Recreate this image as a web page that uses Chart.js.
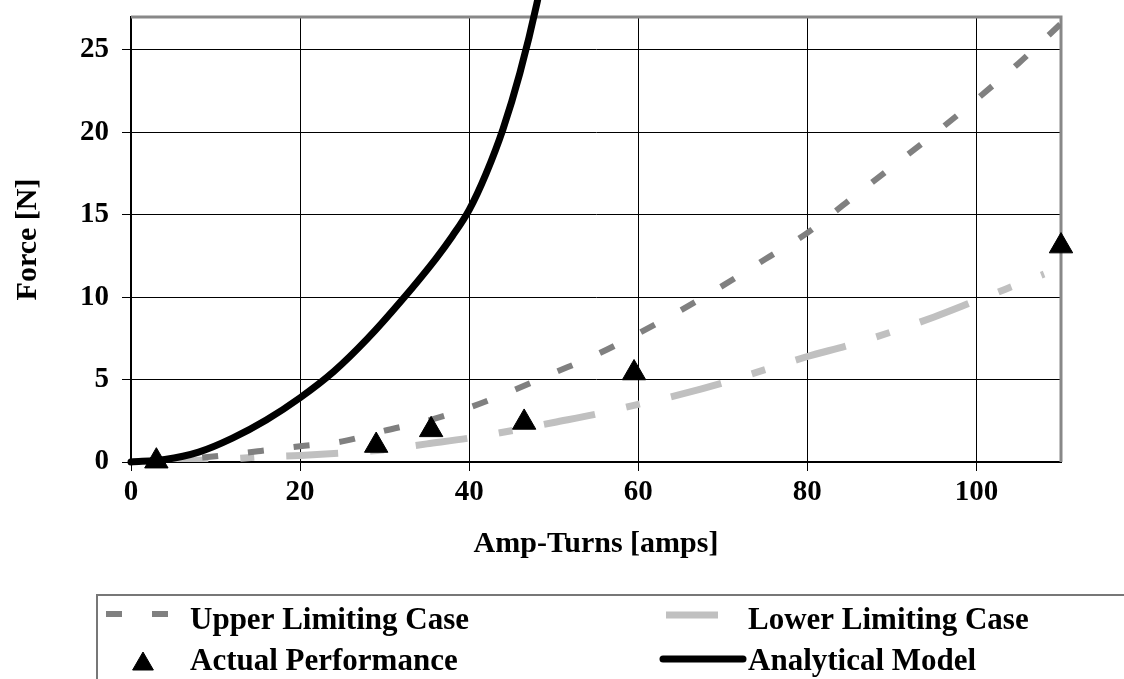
<!DOCTYPE html>
<html lang="en">
<head>
<meta charset="UTF-8">
<title>Force vs Amp-Turns</title>
<script src="https://cdn.jsdelivr.net/npm/chart.js"></script>
<style>
    body { margin: 0; background: #fff; }
    #wrap { width: 1124px; height: 679px; }
</style>
</head>
<body>
<div id="wrap"><canvas id="forceChart" width="1124" height="679"></canvas></div>
<script>
// Analytical Model (solid black line)
const analyticalX = [0, 4, 8, 12, 16, 20, 24, 28, 32, 36, 38, 40, 42, 44, 46, 48, 50];
const analyticalY = [0, 0.15, 0.6, 1.45, 2.55, 3.9, 5.5, 7.5, 9.8, 12.3, 13.7, 15.3, 17.5, 20.2, 23.6, 27.8, 33];

// Upper Limiting Case (dark grey dashes)
const upperX = [3, 8, 10, 15, 20, 25, 30, 35, 40, 45, 50, 55, 60, 65, 70, 75, 80, 85, 90, 95, 100, 105, 110];
const upperY = [0.05, 0.25, 0.35, 0.65, 0.95, 1.25, 1.9, 2.5, 3.3, 4.3, 5.4, 6.5, 7.8, 9.2, 10.7, 12.3, 13.9, 15.9, 17.9, 19.9, 22.0, 24.2, 26.6];

// Lower Limiting Case (light grey long dash / short dash)
const lowerX = [3, 8, 12, 15, 20, 25, 30, 35, 40, 45, 50, 55, 60, 65, 70, 75, 80, 85, 90, 95, 100, 105, 108];
const lowerY = [0, 0.1, 0.2, 0.3, 0.4, 0.55, 0.75, 1.1, 1.45, 1.9, 2.4, 2.9, 3.5, 4.1, 4.8, 5.6, 6.4, 7.1, 7.9, 8.8, 9.8, 10.8, 11.4];

// Actual Performance (triangles)
const actualX = [3, 29, 35.5, 46.5, 59.5, 110];
const actualY = [0.05, 1.0, 1.95, 2.4, 5.4, 13.1];

const xTicksMax = 110;
const yTicksMax = 27;

function pts(xs, ys) {
    return xs.map(function (x, i) { return { x: x, y: ys[i] }; });
}

const serif = "'Liberation Serif', 'Times New Roman', serif";

// top + right edge of the plot area
const framePlugin = {
    id: 'frame',
    beforeDatasetsDraw(chart) {
        const a = chart.chartArea;
        const ctx = chart.ctx;
        ctx.save();
        ctx.strokeStyle = '#888';
        ctx.lineWidth = 3;
        ctx.beginPath();
        ctx.moveTo(a.left, a.top);
        ctx.lineTo(a.right, a.top);
        ctx.lineTo(a.right, a.bottom);
        ctx.stroke();
        ctx.restore();
    }
};

// legend drawn in the open box below the axis title
const legendSlots = [
    { x0: 106, x1: 168, y: 614, tx: 190, ty: 629 },
    { x0: 666, x1: 719, y: 615, tx: 748, ty: 629 },
    { x0: 143, x1: 143, y: 664, tx: 190, ty: 670 },
    { x0: 663, x1: 743, y: 659, tx: 748, ty: 670 }
];

const boxLegendPlugin = {
    id: 'boxLegend',
    afterDraw(chart) {
        const ctx = chart.ctx;
        ctx.save();
        ctx.strokeStyle = '#777';
        ctx.lineWidth = 2;
        ctx.beginPath();
        ctx.moveTo(97, 679);
        ctx.lineTo(97, 595);
        ctx.lineTo(1124, 595);
        ctx.stroke();

        chart.data.datasets.forEach(function (ds, i) {
            const s = legendSlots[i];
            if (ds.showLine === false) {
                ctx.fillStyle = ds.backgroundColor;
                ctx.strokeStyle = ds.borderColor;
                ctx.lineWidth = 1;
                Chart.helpers.drawPoint(ctx, {
                    pointStyle: ds.pointStyle,
                    radius: 12,
                    borderWidth: 1
                }, s.x0, s.y);
            } else {
                ctx.strokeStyle = ds.borderColor;
                ctx.lineWidth = ds.borderWidth;
                ctx.lineCap = ds.borderCapStyle || 'butt';
                ctx.setLineDash(ds.borderDash || []);
                ctx.beginPath();
                ctx.moveTo(s.x0, s.y);
                ctx.lineTo(s.x1, s.y);
                ctx.stroke();
                ctx.setLineDash([]);
            }
            ctx.fillStyle = '#000';
            ctx.font = 'bold 31px ' + serif;
            ctx.textBaseline = 'alphabetic';
            ctx.textAlign = 'left';
            ctx.fillText(ds.label, s.tx, s.ty);
        });
        ctx.restore();
    }
};

const ctx = document.getElementById('forceChart').getContext('2d');
const forceChart = new Chart(ctx, {
    type: 'line',
    data: {
        datasets: [
            {
                label: 'Upper Limiting Case',
                data: pts(upperX, upperY),
                borderColor: '#808080',
                borderWidth: 6,
                borderDash: [16, 30],
                borderCapStyle: 'butt',
                pointRadius: 0,
                tension: 0.4,
                cubicInterpolationMode: 'monotone',
                fill: false,
                order: 2
            },
            {
                label: 'Lower Limiting Case',
                data: pts(lowerX, lowerY),
                borderColor: '#c0c0c0',
                borderWidth: 7,
                borderDash: [52, 32, 14, 32],
                borderCapStyle: 'butt',
                pointRadius: 0,
                tension: 0.4,
                cubicInterpolationMode: 'monotone',
                fill: false,
                order: 3
            },
            {
                label: 'Actual Performance',
                data: pts(actualX, actualY),
                showLine: false,
                pointStyle: 'triangle',
                pointRadius: 13.5,
                backgroundColor: '#000',
                borderColor: '#000',
                borderWidth: 1,
                clip: false,
                order: 0
            },
            {
                label: 'Analytical Model',
                data: pts(analyticalX, analyticalY),
                borderColor: '#000',
                borderWidth: 7,
                borderCapStyle: 'round',
                borderJoinStyle: 'round',
                pointRadius: 0,
                tension: 0.4,
                cubicInterpolationMode: 'monotone',
                fill: false,
                clip: { left: 10, top: 17, right: 0, bottom: 10 },
                order: 1
            }
        ]
    },
    options: {
        responsive: false,
        animation: false,
        devicePixelRatio: 1,
        layout: { padding: { left: 0, top: 17, right: 63, bottom: 117 } },
        plugins: {
            legend: { display: false },
            tooltip: { enabled: false }
        },
        scales: {
            x: {
                type: 'linear',
                min: 0,
                max: xTicksMax,
                ticks: {
                    stepSize: 20,
                    includeBounds: false,
                    color: '#000',
                    padding: 4,
                    font: { family: serif, size: 29, weight: 'bold' }
                },
                grid: { color: '#000', lineWidth: 1, tickLength: 9 },
                border: { color: '#000', width: 2 },
                title: {
                    display: true,
                    text: 'Amp-Turns [amps]',
                    color: '#000',
                    font: { family: serif, size: 30, weight: 'bold' },
                    padding: { top: 10, bottom: 0 }
                },
                afterFit: function (scale) { scale.height = 100; }
            },
            y: {
                type: 'linear',
                min: 0,
                max: yTicksMax,
                ticks: {
                    stepSize: 5,
                    includeBounds: false,
                    color: '#000',
                    padding: 13,
                    font: { family: serif, size: 29, weight: 'bold' }
                },
                grid: { color: '#000', lineWidth: 1, tickLength: 9 },
                border: { color: '#000', width: 2 },
                title: {
                    display: true,
                    text: 'Force [N]',
                    color: '#000',
                    font: { family: serif, size: 30, weight: 'bold' },
                    padding: { top: 10, bottom: 0 }
                },
                afterFit: function (scale) {
                    scale.width = 131;
                    scale.paddingTop = 0;
                    scale.paddingBottom = 0;
                }
            }
        }
    },
    plugins: [framePlugin, boxLegendPlugin]
});
</script>
</body>
</html>
